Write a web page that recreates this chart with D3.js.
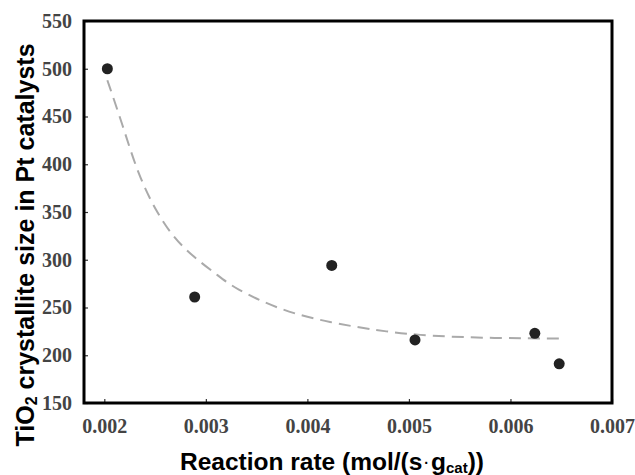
<!DOCTYPE html>
<html>
<head>
<meta charset="utf-8">
<script src="https://cdn.jsdelivr.net/npm/d3@7"></script>
<style>
  body { margin: 0; background: #fff; }
  svg { display: block; }
</style>
</head>
<body>
<svg id="chart" width="635" height="475"></svg>
<script>
// measured points (reaction rate, TiO2 crystallite size)
var rates = [0.00203, 0.00289, 0.00424, 0.00506, 0.00624, 0.00648];
var sizes = [500, 261, 294, 216, 223, 191];

// dashed trend line
var trendX = [0.00203, 0.00219, 0.00233, 0.00252, 0.00275, 0.00314, 0.00327, 0.00373, 0.00423, 0.00469, 0.00507, 0.00571, 0.00649];
var trendY = [488, 438, 390, 348, 313, 282, 271, 247, 234, 226, 221, 218, 217.5];

var xTicks = [0.002, 0.003, 0.004, 0.005, 0.006, 0.007];
var yTicks = [150, 200, 250, 300, 350, 400, 450, 500, 550];

var svg = d3.select('#chart');
var plotLeft = 84, plotRight = 612, plotTop = 21, plotBottom = 403;

var xScale = d3.scaleLinear().domain([0.0018, 0.007]).range([plotLeft, plotRight]);
var yScale = d3.scaleLinear().domain([150, 550]).range([plotBottom, plotTop]);

// axes, ticks pointing inward
var xAxis = svg.append('g')
    .attr('transform', 'translate(0,' + plotBottom + ')')
    .call(d3.axisBottom(xScale).tickValues(xTicks).tickFormat(d3.format('.3f'))
        .tickSizeInner(-4).tickSizeOuter(0).tickPadding(16));
var yAxis = svg.append('g')
    .attr('transform', 'translate(' + plotLeft + ',0)')
    .call(d3.axisLeft(yScale).tickValues(yTicks)
        .tickSizeInner(-4).tickSizeOuter(0).tickPadding(12));

[xAxis, yAxis].forEach(function(ax) {
    ax.select('.domain').remove();
    ax.selectAll('line').attr('stroke', '#333').attr('stroke-width', 1.2);
    ax.selectAll('text')
        .style('font-family', '"Liberation Serif", "Times New Roman", serif')
        .style('font-weight', 'bold')
        .style('font-size', '20px')
        .attr('fill', '#444');
});

// frame
svg.append('rect')
    .attr('x', plotLeft).attr('y', plotTop)
    .attr('width', plotRight - plotLeft).attr('height', plotBottom - plotTop)
    .attr('fill', 'none')
    .attr('stroke', '#000')
    .attr('stroke-width', 3);

// trend line
var line = d3.line()
    .x(function(d) { return xScale(d[0]); })
    .y(function(d) { return yScale(d[1]); })
    .curve(d3.curveBasis);
svg.append('path')
    .datum(d3.zip(trendX, trendY))
    .attr('d', line)
    .attr('fill', 'none')
    .attr('stroke', '#aaa')
    .attr('stroke-width', 2)
    .attr('stroke-dasharray', '12,7');

// points
svg.selectAll('circle.pt')
    .data(d3.zip(rates, sizes))
    .enter()
    .append('circle')
    .attr('class', 'pt')
    .attr('cx', function(d) { return xScale(d[0]); })
    .attr('cy', function(d) { return yScale(d[1]); })
    .attr('r', 5.5)
    .attr('fill', '#222');

// axis titles
var titleFont = '"Liberation Sans", Arial, sans-serif';
var xt = svg.append('text')
    .attr('x', 332)
    .attr('y', 470)
    .attr('text-anchor', 'middle')
    .style('font-family', titleFont)
    .style('font-weight', 'bold')
    .style('font-size', '24.5px');
xt.append('tspan').text('Reaction rate (mol/(s');
xt.append('tspan').text('\u00b7').style('font-size', '14px').attr('dx', 2).attr('dy', -2);
xt.append('tspan').text('g').attr('dx', 2).attr('dy', 2);
xt.append('tspan').text('cat').style('font-size', '15px').attr('dy', 3);
xt.append('tspan').text('))').attr('dy', -3);

var yt = svg.append('text')
    .attr('transform', 'translate(34,245) rotate(-90)')
    .attr('text-anchor', 'middle')
    .style('font-family', titleFont)
    .style('font-weight', 'bold')
    .style('font-size', '25px');
yt.append('tspan').text('TiO');
yt.append('tspan').text('2').style('font-size', '16px').attr('dy', 3);
yt.append('tspan').text(' crystallite size in Pt catalysts').attr('dy', -3);
</script>
</body>
</html>
